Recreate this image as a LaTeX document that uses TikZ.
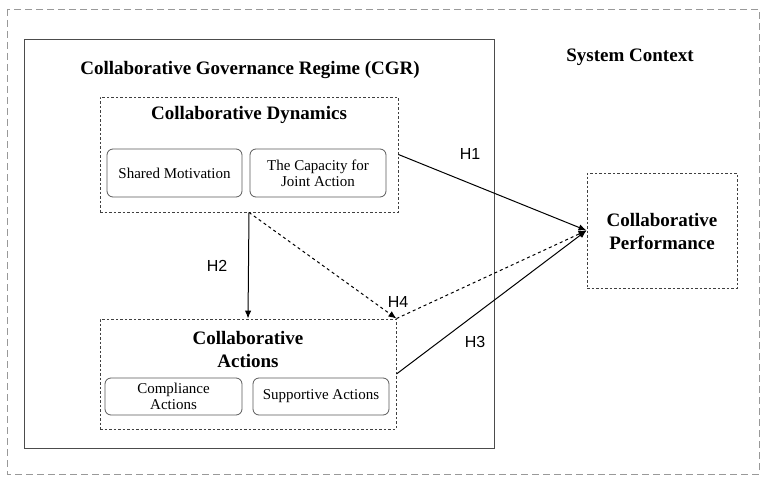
\documentclass[tikz,border=0pt]{standalone}
\usepackage{fontspec}
\setmainfont{Liberation Serif}
\setsansfont{Liberation Sans}
\usepackage{tikz}
\usetikzlibrary{arrows.meta,positioning}

\begin{document}
\begin{tikzpicture}[x=1pt, y=-1pt, font=\rmfamily,
		context/.style={draw=gray!80, line width=0.9pt, dash pattern=on 7pt off 4pt},
		regime/.style={draw=black!70, line width=1pt, minimum width=470pt, minimum height=408pt},
		group/.style={draw=black!75, line width=0.9pt, dash pattern=on 2.5pt off 2pt, minimum width=298pt, minimum height=115pt},
		part/.style={draw=black!65, line width=0.8pt, rounded corners=6pt, align=center, font=\rmfamily\fontsize{15}{16}\selectfont, inner sep=1pt},
		head/.style={font=\rmfamily\bfseries\fontsize{19}{23}\selectfont, align=center},
		hyp/.style={font=\sffamily\fontsize{16}{18}\selectfont},
		link/.style={line width=1pt, -{Latex[length=8pt, width=6.5pt]}}]
		\useasboundingbox (0,0) rectangle (762,476);
		
		% System context (outer dashed frame)
		\draw[context] (7,9) rectangle (759,474);
		\node[head] (ctx) at (630,57) {System Context};
		
		% Collaborative governance regime
		\node[regime] (cgr) at (259,244) {};
		\node[head] (cgrtitle) at (250,70) {Collaborative Governance Regime (CGR)};
		
		% Collaborative dynamics
		\node[group] (dyn) at (249,154.5) {};
		\node[head] (dyntitle) at (249,115) {Collaborative Dynamics};
		\node[part, minimum width=135pt, minimum height=48pt] (motiv) at (174.5,173) {Shared Motivation};
		\node[part, minimum width=136pt, minimum height=48pt] (capac) at (318,173) {The Capacity for\\Joint Action};
		
		% Collaborative actions
		\node[group, minimum width=296pt, minimum height=110pt] (act) at (248,374) {};
		\node[head] (acttitle) at (248,349) {Collaborative\\Actions};
		\node[part, minimum width=137pt, minimum height=37pt] (compl) at (173.5,396.5) {Compliance\\Actions};
		\node[part, minimum width=136pt, minimum height=37pt] (suppo) at (321,396.5) {Supportive Actions};
		
		% Collaborative performance
		\node[group, minimum width=150pt, minimum height=115pt] (perf) at (662,230.5) {};
		\node[head] (perftitle) at (662,231) {Collaborative\\Performance};
		
		% Hypotheses
		\draw[link] (dyn.east) -- (perf.west);
		\draw[link] (dyn.south) -- (act.north);
		\draw[link] (act.east) -- (perf.west);
		\draw[link, dashed] (dyn.south) -- (act.north east);
		\draw[link, dashed] (act.north east) -- (perf.west);
		
		\node[hyp] (h1) at (470,154) {H1};
		\node[hyp] (h2) at (217,266) {H2};
		\node[hyp] (h3) at (475,342) {H3};
		\node[hyp] (h4) at (398,302) {H4};
		
	\end{tikzpicture}
\end{document}
